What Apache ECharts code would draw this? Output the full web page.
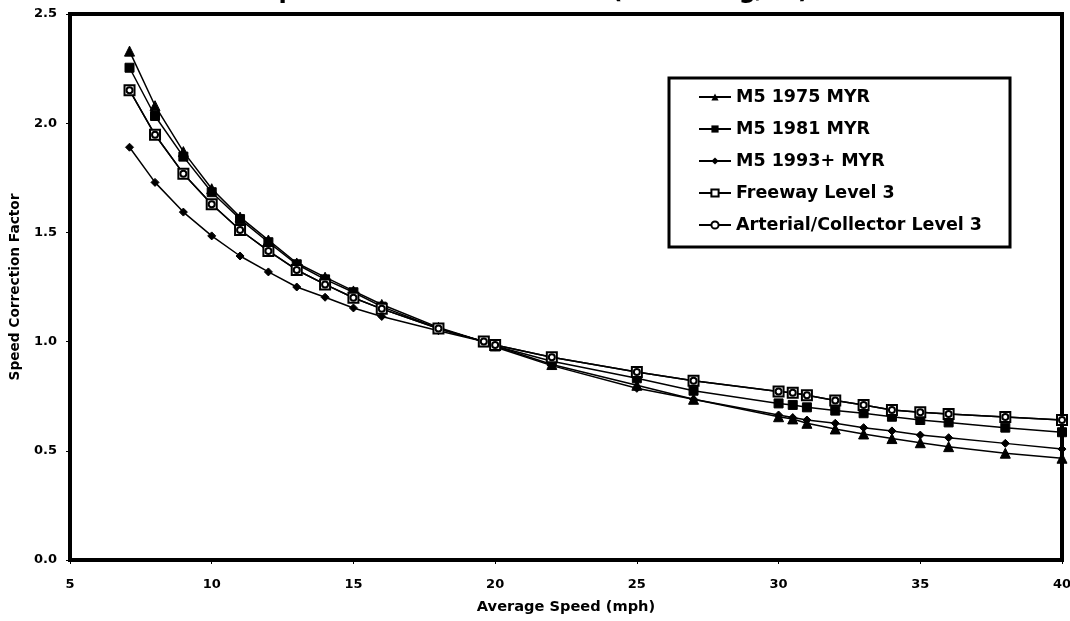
<!DOCTYPE html>
<html>
<head>
<meta charset="utf-8">
<script src="https://cdn.jsdelivr.net/npm/echarts@6/dist/echarts.min.js"></script>
<style>
html,body{margin:0;padding:0;background:#fff;}
#chart{width:1070px;height:621px;}
</style>
</head>
<body>
<div id="chart"></div>
<script>
const speeds = [7.1, 8, 9, 10, 11, 12, 13, 14, 15, 16, 18, 19.6, 20, 22, 25, 27, 30, 30.5, 31, 32, 33, 34, 35, 36, 38, 40];
const m5_1975 = [2.33, 2.08, 1.87, 1.70, 1.57, 1.465, 1.36, 1.295, 1.232, 1.17, 1.065, 1.0, 0.98, 0.895, 0.80, 0.736, 0.656, 0.646, 0.626, 0.600, 0.577, 0.556, 0.537, 0.519, 0.489, 0.466];
const m5_1981 = [2.254, 2.033, 1.847, 1.684, 1.561, 1.455, 1.354, 1.285, 1.226, 1.16, 1.06, 1.0, 0.98, 0.91, 0.832, 0.775, 0.717, 0.710, 0.699, 0.684, 0.672, 0.656, 0.641, 0.630, 0.606, 0.585];
const m5_1993 = [1.89, 1.729, 1.593, 1.484, 1.392, 1.319, 1.25, 1.203, 1.154, 1.115, 1.05, 1.0, 0.975, 0.89, 0.786, 0.736, 0.664, 0.652, 0.641, 0.626, 0.606, 0.591, 0.572, 0.560, 0.534, 0.508];
const freewayL3 = [2.151, 1.947, 1.769, 1.629, 1.511, 1.415, 1.328, 1.262, 1.201, 1.15, 1.06, 1.0, 0.984, 0.928, 0.861, 0.821, 0.771, 0.766, 0.754, 0.730, 0.710, 0.687, 0.676, 0.668, 0.655, 0.641];
const arterialL3 = [2.151, 1.947, 1.769, 1.629, 1.511, 1.415, 1.328, 1.262, 1.201, 1.15, 1.06, 1.0, 0.984, 0.928, 0.861, 0.821, 0.771, 0.766, 0.754, 0.730, 0.710, 0.687, 0.676, 0.668, 0.655, 0.641];
const seriesNames = ['M5 1975 MYR', 'M5 1981 MYR', 'M5 1993+ MYR', 'Freeway Level 3', 'Arterial/Collector Level 3'];
const titleText = 'Speed Correction Factors (Exhaust g/mi)';

const FONT = '"DejaVu Sans", "Liberation Sans", Arial, sans-serif';
const pair = arr => speeds.map((s, i) => [s, arr[i]]);

function mk(name, data, symbol, size, filled) {
  return {
    name: name,
    type: 'line',
    data: pair(data),
    symbol: symbol,
    symbolSize: size,
    showAllSymbol: true,
    lineStyle: { color: '#000', width: 1.5 },
    itemStyle: filled ? { color: '#000', borderColor: '#000' } : { color: '#000', borderColor: '#000', borderWidth: 1.5 },
    emphasis: { disabled: true },
    animation: false
  };
}

const chart = echarts.init(document.getElementById('chart'), null, { renderer: 'canvas' });
chart.setOption({
  backgroundColor: '#fff',
  animation: false,
  title: {
    text: titleText,
    left: 'center',
    top: -25,
    textStyle: { fontFamily: FONT, fontSize: 24, fontWeight: 'bold', color: '#000' }
  },
  legend: {
    left: 669,
    top: 78,
    orient: 'vertical',
    padding: [10, 28, 13, 29],
    itemWidth: 32,
    itemHeight: 9,
    itemGap: 14,
    borderColor: '#000',
    borderWidth: 3,
    backgroundColor: '#fff',
    data: seriesNames,
    textStyle: { fontFamily: FONT, fontSize: 17.5, fontWeight: 'bold', color: '#000' }
  },
  grid: {
    left: 70, right: 8, top: 14, bottom: 61,
    outerBoundsMode: 'none',
    containLabel: false,
    show: true, borderColor: '#000', borderWidth: 4, backgroundColor: '#fff'
  },
  xAxis: {
    type: 'value',
    min: 5, max: 40, interval: 5,
    name: 'Average Speed (mph)',
    nameLocation: 'middle',
    nameGap: 40,
    nameTextStyle: { fontFamily: FONT, fontSize: 14.6, fontWeight: 'bold', color: '#000' },
    axisLine: { show: false },
    axisTick: { show: true, inside: false, length: 4, lineStyle: { color: '#000', width: 1 } },
    axisLabel: { margin: 18, fontFamily: FONT, fontSize: 13, fontWeight: 'bold', color: '#000' },
    splitLine: { show: false }
  },
  yAxis: {
    type: 'value',
    min: 0, max: 2.5, interval: 0.5,
    name: 'Speed Correction Factor',
    nameLocation: 'middle',
    nameGap: 48,
    nameTextStyle: { fontFamily: FONT, fontSize: 13.7, fontWeight: 'bold', color: '#000' },
    axisLine: { show: false },
    axisTick: { show: true, inside: false, length: 4, lineStyle: { color: '#000', width: 1 } },
    axisLabel: { margin: 13, fontFamily: FONT, fontSize: 13, fontWeight: 'bold', color: '#000', formatter: v => v.toFixed(1) },
    splitLine: { show: false }
  },
  series: [
    mk(seriesNames[0], m5_1975, 'triangle', 10, true),
    mk(seriesNames[1], m5_1981, 'rect', 9, true),
    mk(seriesNames[2], m5_1993, 'diamond', 8, true),
    mk(seriesNames[3], freewayL3, 'emptyRect', 10, false),
    mk(seriesNames[4], arterialL3, 'emptyCircle', 6, false)
  ]
});
</script>
</body>
</html>
